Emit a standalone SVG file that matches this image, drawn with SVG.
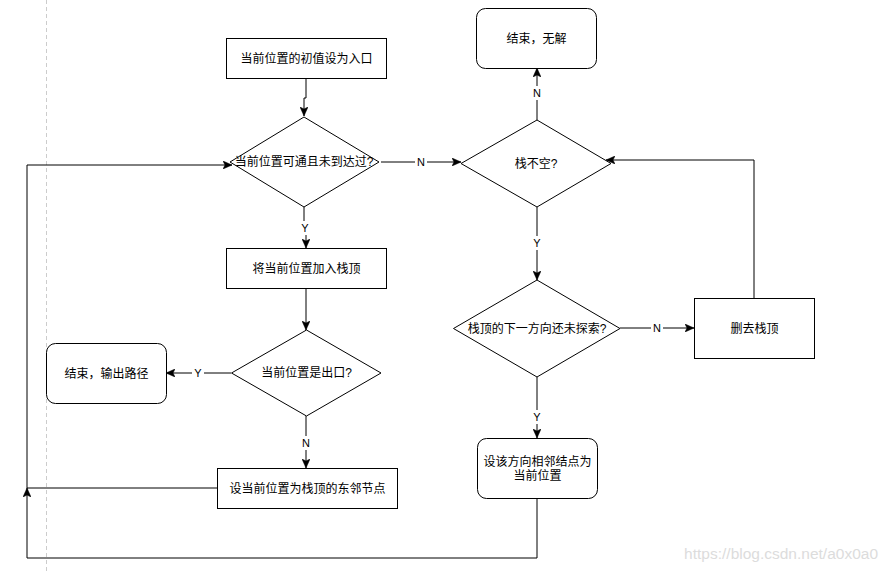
<svg xmlns="http://www.w3.org/2000/svg" width="888" height="572" viewBox="0 0 888 572">
<style>
.shape{fill:#fff;stroke:#000;stroke-width:1}
.t{font-family:"Liberation Sans","Noto Sans CJK SC",sans-serif;font-size:12px;fill:#000;text-anchor:middle;dominant-baseline:central}
.lbl{font-family:"Liberation Sans","Noto Sans CJK SC",sans-serif;font-size:11px;fill:#000;text-anchor:middle;dominant-baseline:central}
.edge{fill:none;stroke:#000;stroke-width:1}
.lblbg{fill:#fff}
</style>
<defs>
<marker id="arr" markerWidth="10" markerHeight="8" refX="9" refY="4" orient="auto" markerUnits="userSpaceOnUse">
<path d="M0,0 L9,4 L0,8 L2,4 z" fill="#000" stroke="#000" stroke-width="0.5"/>
</marker>
</defs>
<rect width="888" height="572" fill="#fff"/>
<line x1="46.5" y1="0" x2="46.5" y2="572" stroke="#cccccc" stroke-width="1" stroke-dasharray="4 3"/>

<g id="connectors">
<path class="edge" d="M306,78 V98 H304 V116" marker-end="url(#arr)"/>
<path class="edge" d="M381,162 H461" marker-end="url(#arr)"/>
<path class="edge" d="M304,207 V228 H306 V248" marker-end="url(#arr)"/>
<path class="edge" d="M306,288 V330" marker-end="url(#arr)"/>
<path class="edge" d="M231,373 H166" marker-end="url(#arr)"/>
<path class="edge" d="M306,416 V468" marker-end="url(#arr)"/>
<path class="edge" d="M217,488 H27 V165 H232" marker-end="url(#arr)"/>
<path class="edge" d="M537,120 V68" marker-end="url(#arr)"/>
<path class="edge" d="M537,207 V280" marker-end="url(#arr)"/>
<path class="edge" d="M620,328 H694" marker-end="url(#arr)"/>
<path class="edge" d="M754,298 V160 H606" marker-end="url(#arr)"/>
<path class="edge" d="M537,377 V438" marker-end="url(#arr)"/>
<path class="edge" d="M537,498 V558 H27 V488" marker-end="url(#arr)"/>
<rect class="lblbg" x="415" y="155" width="12" height="14"/>
<text class="lbl" x="421" y="162">N</text>
<rect class="lblbg" x="299" y="221" width="12" height="14"/>
<text class="lbl" x="305" y="228">Y</text>
<rect class="lblbg" x="192" y="366" width="12" height="14"/>
<text class="lbl" x="198" y="373">Y</text>
<rect class="lblbg" x="300" y="436" width="12" height="14"/>
<text class="lbl" x="306" y="443">N</text>
<rect class="lblbg" x="531" y="86" width="12" height="14"/>
<text class="lbl" x="537" y="93">N</text>
<rect class="lblbg" x="531" y="236" width="12" height="14"/>
<text class="lbl" x="537" y="243">Y</text>
<rect class="lblbg" x="651" y="321" width="12" height="14"/>
<text class="lbl" x="657" y="328">N</text>
<rect class="lblbg" x="531" y="410" width="12" height="14"/>
<text class="lbl" x="537" y="417">Y</text>
</g>

<g id="n-init">
<rect class="shape" x="226.5" y="38.5" width="160" height="40"/>
<text class="t" x="306.5" y="58.5">当前位置的初值设为入口</text>
</g>
<g id="n-passable">
<polygon class="shape" points="304,117 379,162 304,207 230,162"/>
<text class="t" x="304" y="162">当前位置可通且未到达过?</text>
</g>
<g id="n-push">
<rect class="shape" x="226.5" y="248.5" width="160" height="40"/>
<text class="t" x="306.5" y="268.5">将当前位置加入栈顶</text>
</g>
<g id="n-isexit">
<polygon class="shape" points="306.5,330 381,373 306.5,416 231.5,373"/>
<text class="t" x="306.5" y="373">当前位置是出口?</text>
</g>
<g id="n-endpath">
<rect class="shape" x="46.5" y="343.5" width="120" height="60" rx="9" ry="9"/>
<text class="t" x="106.5" y="373.5">结束，输出路径</text>
</g>
<g id="n-east">
<rect class="shape" x="217.5" y="468.5" width="180" height="40"/>
<text class="t" x="307.5" y="488.5">设当前位置为栈顶的东邻节点</text>
</g>
<g id="n-nonempty">
<polygon class="shape" points="537,120 611,163.5 537,207 461,163.5"/>
<text class="t" x="536" y="163.5">栈不空?</text>
</g>
<g id="n-endnone">
<rect class="shape" x="476.5" y="8.5" width="120" height="60" rx="9" ry="9"/>
<text class="t" x="536.5" y="38.5">结束，无解</text>
</g>
<g id="n-nextdir">
<polygon class="shape" points="537,280 620,328.5 537,377 453.5,328.5"/>
<text class="t" x="537" y="328.5">栈顶的下一方向还未探索?</text>
</g>
<g id="n-pop">
<rect class="shape" x="694.5" y="298.5" width="120" height="60"/>
<text class="t" x="754.5" y="328.5">删去栈顶</text>
</g>
<g id="n-setnext">
<rect class="shape" x="477.5" y="438.5" width="120" height="60" rx="9" ry="9"/>
<text class="t" x="537.5" y="462">设该方向相邻结点为</text>
<text class="t" x="537.5" y="476">当前位置</text>
</g>

<text x="878" y="553" font-family="'Liberation Sans',sans-serif" font-size="15.5" fill="#dcdcdc" text-anchor="end" dominant-baseline="central">https://blog.csdn.net/a0x0a0</text>
</svg>
